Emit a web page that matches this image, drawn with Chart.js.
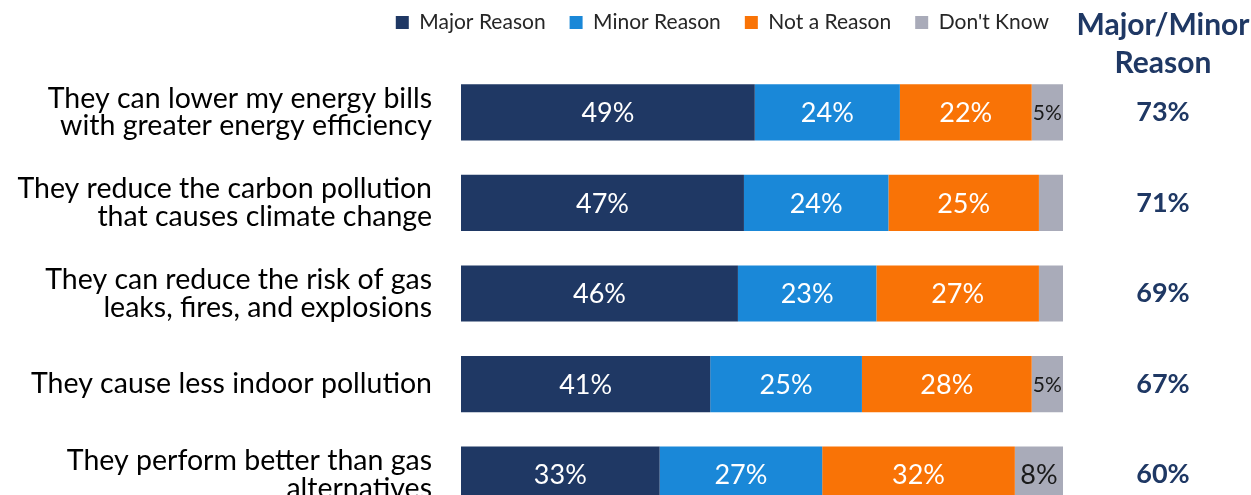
<!DOCTYPE html>
<html>
<head>
<meta charset="utf-8">
<script src="https://cdn.jsdelivr.net/npm/chart.js@4/dist/chart.umd.min.js"></script>
<style>
	html, body { margin: 0; padding: 0; overflow: hidden; background: #fff; }
	canvas { display: block; }
</style>
</head>
<body>
<canvas id="barChart" width="1251" height="520"></canvas>
<script>
const categories = [
	['They can lower my energy bills', 'with greater energy efficiency'],
	['They reduce the carbon pollution', 'that causes climate change'],
	['They can reduce the risk of gas', 'leaks, fires, and explosions'],
	['They cause less indoor pollution'],
	['They perform better than gas', 'alternatives'],
];
const majorReason = [48.8, 47, 46, 41.4, 33];
const minorReason = [24.1, 24, 23, 25.2, 27];
const notAReason = [21.9, 25, 27, 28.2, 32];
const dontKnow = [5.2, 4, 4, 5.2, 8];
const majorMinorTotal = [73, 71, 69, 67, 60];
const seriesNames = ['Major Reason', 'Minor Reason', 'Not a Reason', "Don't Know"];

const FONT = 'Lato';
const NAVY = '#1f3864';

// labels inside the bars + the right hand column
const barLabels = {
	id: 'barLabels',
	afterDatasetsDraw(chart) {
		const ctx = chart.ctx;
		const area = chart.chartArea;
		ctx.save();
		ctx.textAlign = 'center';
		ctx.textBaseline = 'middle';
		chart.data.datasets.forEach((ds, di) => {
			const meta = chart.getDatasetMeta(di);
			meta.data.forEach((bar, i) => {
				const v = Math.round(ds.data[i]);
				if (v < 5) return;
				const txt = v + '%';
				const w = Math.abs(bar.x - bar.base);
				let size = 27;
				ctx.font = `${size}px ${FONT}`;
				const tw = ctx.measureText(txt).width;
				if (tw > w - 2) {
					size = Math.floor(size * (w - 2) / tw);
					ctx.font = `${size}px ${FONT}`;
				}
				ctx.fillStyle = di === 3 ? '#1a1a1a' : '#ffffff';
				ctx.fillText(txt, (bar.x + bar.base) / 2, bar.y + 1);
			});
		});

		const colX = area.right + 100;
		ctx.fillStyle = NAVY;
		ctx.font = `bold 27px ${FONT}`;
		chart.getDatasetMeta(0).data.forEach((bar, i) => {
			ctx.fillText(majorMinorTotal[i] + '%', colX, bar.y);
		});
		ctx.font = `bold 30px ${FONT}`;
		ctx.fillText('Major/Minor', colX, 25);
		ctx.fillText('Reason', colX, 63);
		ctx.restore();
	},
};

let data = {
	labels: categories,
	datasets: [
		{ label: seriesNames[0], data: majorReason, backgroundColor: NAVY },
		{ label: seriesNames[1], data: minorReason, backgroundColor: '#1a88d8' },
		{ label: seriesNames[2], data: notAReason, backgroundColor: '#f97306' },
		{ label: seriesNames[3], data: dontKnow, backgroundColor: '#a9abb9' },
	],
};

let options = {
	indexAxis: 'y',
	responsive: false,
	animation: false,
	datasets: {
		bar: { categoryPercentage: 1, barPercentage: 0.62, borderWidth: 0 },
	},
	layout: { padding: { top: -12, right: 178, left: 0, bottom: 0 } },
	plugins: {
		tooltip: { enabled: false },
		legend: {
			position: 'top',
			align: 'end',
			labels: {
				boxWidth: 13,
				boxHeight: 13,
				padding: 24,
				color: '#262626',
				font: { family: FONT, size: 21 },
			},
		},
	},
	scales: {
		x: {
			stacked: true,
			position: 'top',
			min: 0,
			max: 100,
			ticks: { display: false },
			grid: { display: false },
			border: { display: false },
			afterFit: (scale) => { scale.height = 24; },
		},
		y: {
			stacked: true,
			ticks: {
				color: '#000',
				padding: 29,
				font: { family: FONT, size: 28.5, lineHeight: 0.97 },
			},
			grid: { display: false, drawTicks: false },
			border: { display: false },
			afterFit: (scale) => {
				scale.width = 461;
				// the labels may hang out, don't shrink the bars for it
				scale.paddingTop = 0;
				scale.paddingBottom = 0;
			},
		},
		yRight: {
			axis: 'y',
			type: 'category',
			position: 'right',
			ticks: { display: false },
			grid: { display: false, drawTicks: false },
			border: { display: false },
			afterFit: (scale) => { scale.width = 10; },
		},
	},
};

const chartConfig = {
	type: 'bar',
	data,
	options,
	plugins: [barLabels],
};
new Chart(document.getElementById('barChart').getContext('2d'), chartConfig);
</script>
</body>
</html>
